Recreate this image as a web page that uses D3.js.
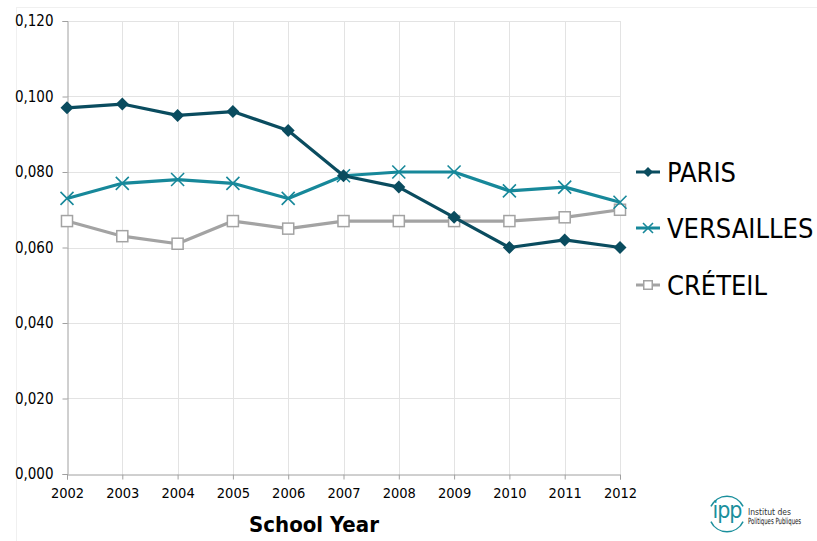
<!DOCTYPE html>
<html>
<head>
<meta charset="utf-8">
<script src="https://cdn.jsdelivr.net/npm/d3@7"></script>
<style>
  body { margin: 0; background: #fff; }
  svg { font-family: Tahoma, 'DejaVu Sans Condensed', 'DejaVu Sans', sans-serif; }
</style>
</head>
<body>
<svg id="chart" width="817" height="541"></svg>
<script>
const years = [2002, 2003, 2004, 2005, 2006, 2007, 2008, 2009, 2010, 2011, 2012];
const paris = [0.097, 0.098, 0.095, 0.096, 0.091, 0.079, 0.076, 0.068, 0.060, 0.062, 0.060];
const versailles = [0.073, 0.077, 0.078, 0.077, 0.073, 0.079, 0.080, 0.080, 0.075, 0.076, 0.072];
const creteil = [0.067, 0.063, 0.061, 0.067, 0.065, 0.067, 0.067, 0.067, 0.067, 0.068, 0.070];
const yTicks = [0, 0.02, 0.04, 0.06, 0.08, 0.1, 0.12];

const series = [
  { name: 'PARIS', values: paris, color: '#0a4c5f', marker: 'diamond' },
  { name: 'VERSAILLES', values: versailles, color: '#17889a', marker: 'cross' },
  { name: 'CRÉTEIL', values: creteil, color: '#a3a3a3', marker: 'square' }
];

const svg = d3.select('#chart');
const plot = { left: 67, right: 620, top: 21, bottom: 474 };

const x = d3.scaleLinear().domain([2002, 2012]).range([plot.left, plot.right]);
const y = d3.scaleLinear().domain([0, 0.12]).range([plot.bottom, plot.top]);
const fmt = v => d3.format('.3f')(v).replace('.', ',');

// chart frame
svg.append('rect')
  .attr('x', 16.5).attr('y', 7.5).attr('width', 820).attr('height', 540)
  .attr('fill', 'none').attr('stroke', '#f0f0f0');

// grid
svg.append('g').selectAll('line').data(yTicks.slice(1)).join('line')
  .attr('x1', plot.left).attr('x2', plot.right)
  .attr('y1', d => Math.round(y(d)) + 0.5).attr('y2', d => Math.round(y(d)) + 0.5)
  .attr('stroke', '#e3e3e3');
svg.append('g').selectAll('line').data(years.slice(1)).join('line')
  .attr('y1', plot.top).attr('y2', plot.bottom)
  .attr('x1', d => Math.round(x(d)) + 0.5).attr('x2', d => Math.round(x(d)) + 0.5)
  .attr('stroke', '#e3e3e3');

// axes
const yAxis = svg.append('g')
  .attr('transform', `translate(${plot.left + 0.5},0)`)
  .call(d3.axisLeft(y).tickValues(yTicks).tickFormat(fmt).tickSize(5).tickPadding(9));
const xAxis = svg.append('g')
  .attr('transform', `translate(0,${plot.bottom + 0.5})`)
  .call(d3.axisBottom(x).tickValues(years).tickFormat(d3.format('d')).tickSize(5).tickPadding(8));
[yAxis, xAxis].forEach(a => {
  a.select('.domain').attr('stroke', '#a0a0a0');
  a.selectAll('.tick line').attr('stroke', '#a0a0a0');
  a.selectAll('text').attr('fill', '#000');
  a.attr('font-family', null);
});
yAxis.selectAll('text').attr('font-size', 15);
xAxis.selectAll('text').attr('font-size', 14.5);

svg.append('text')
  .attr('x', 314).attr('y', 532).attr('text-anchor', 'middle')
  .attr('font-size', 22).attr('font-weight', 'bold').text('School Year');

// markers
function drawMarker(g, type, color, size) {
  if (type === 'diamond') {
    g.append('path').attr('d', `M0,${-size}L${size},0L0,${size}L${-size},0Z`).attr('fill', color);
  } else if (type === 'cross') {
    g.append('path').attr('d', `M${-size},${-size}L${size},${size}M${-size},${size}L${size},${-size}`)
      .attr('stroke', color).attr('stroke-width', 1.6).attr('fill', 'none');
  } else {
    const s = size * 0.85;
    g.append('rect').attr('x', -s).attr('y', -s).attr('width', 2 * s).attr('height', 2 * s)
      .attr('fill', '#fff').attr('stroke', color).attr('stroke-width', 1.5);
  }
}

const line = d3.line().x((d, i) => x(years[i])).y(d => y(d));
series.slice().reverse().forEach(s => {
  svg.append('path').datum(s.values)
    .attr('d', line).attr('fill', 'none')
    .attr('stroke', s.color).attr('stroke-width', 3.2).attr('stroke-linejoin', 'round');
  s.values.forEach((v, i) => {
    const g = svg.append('g').attr('transform', `translate(${x(years[i])},${y(v)})`);
    drawMarker(g, s.marker, s.color, 6.5);
  });
});

// legend
const legendY = d3.scaleOrdinal().domain(series.map(s => s.name)).range([172, 228, 285]);
series.forEach(s => {
  const ly = legendY(s.name);
  svg.append('line').attr('x1', 636).attr('x2', 660).attr('y1', ly).attr('y2', ly)
    .attr('stroke', s.color).attr('stroke-width', 3);
  const g = svg.append('g').attr('transform', `translate(648,${ly})`);
  drawMarker(g, s.marker, s.color, 5);
  svg.append('text').attr('x', 667).attr('y', ly + 10)
    .attr('font-size', 27).attr('fill', '#000').text(s.name);
});

// ipp logo
const logo = svg.append('g').attr('transform', 'translate(727,514)');
const arc = d3.arc().innerRadius(17).outerRadius(18.5);
logo.append('path').attr('d', arc({ startAngle: -Math.PI * 0.36, endAngle: Math.PI * 0.36 })).attr('fill', '#1a8f9c');
logo.append('path').attr('d', arc({ startAngle: Math.PI * 0.64, endAngle: Math.PI * 1.36 })).attr('fill', '#1a8f9c');
logo.append('text').attr('x', 0).attr('y', 4).attr('text-anchor', 'middle')
  .attr('font-size', 23).attr('fill', '#1a8f9c').attr('letter-spacing', -1).text('ipp');
logo.append('text').attr('x', 21).attr('y', 1).attr('font-size', 8.5).attr('fill', '#333').text('Institut des');
logo.append('text').attr('transform', 'translate(21,10) scale(0.7,1)')
  .attr('font-size', 8.5).attr('fill', '#111').text('Politiques Publiques');
</script>
</body>
</html>
